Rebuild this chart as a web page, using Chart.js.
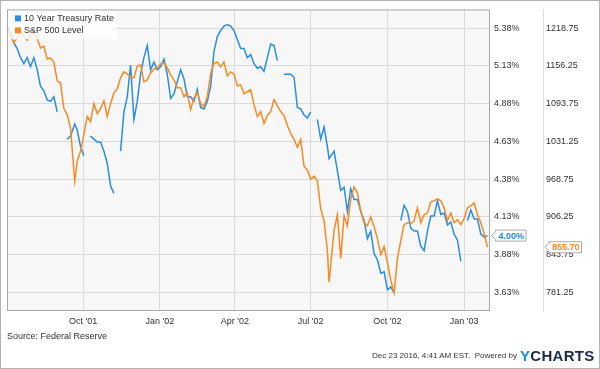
<!DOCTYPE html>
<html>
<head>
<meta charset="utf-8">
<script src="https://cdn.jsdelivr.net/npm/chart.js@4.4.0/dist/chart.umd.min.js"></script>
<style>
    html, body { margin: 0; padding: 0; background: #fff; }
    #wrap { position: relative; width: 600px; height: 369px; overflow: hidden; font-family: 'Liberation Sans', Arial, sans-serif; }
    #chart { position: absolute; left: 0; top: 0; }
    #frame { position: absolute; left: 0; top: 0; width: 600px; height: 369px; box-sizing: border-box; border: 1px solid #b4b4b4; pointer-events: none; }
    #source { position: absolute; left: 7px; top: 331px; font-size: 9px; color: #333; }
    #stamp { position: absolute; right: 83px; top: 351px; font-size: 8px; color: #333; }
    #logo { position: absolute; left: 520px; top: 347px; font-size: 15px; font-weight: bold; color: #1b2a47; letter-spacing: 0.3px; }
    #logo span { color: #1e8ddf; }
</style>
</head>
<body>
<div id="wrap">
    <canvas id="chart" width="600" height="369"></canvas>
    <div id="source">Source: Federal Reserve</div>
    <div id="stamp">Dec 23 2016, 4:41 AM EST.&nbsp; Powered by</div>
    <div id="logo"><span>Y</span>CHARTS</div>
    <div id="frame"></div>
</div>
<script>
const dates = [
    '2001-07-02', '2001-07-06', '2001-07-10', '2001-07-14', '2001-07-18', '2001-07-22', '2001-07-26', '2001-07-30',
    '2001-08-03', '2001-08-07', '2001-08-11', '2001-08-15', '2001-08-19', '2001-08-23', '2001-08-27', '2001-08-31',
    '2001-09-04', '2001-09-08', '2001-09-12', '2001-09-16', '2001-09-21', '2001-09-24', '2001-09-28',
    '2001-10-02', '2001-10-06', '2001-10-10', '2001-10-14', '2001-10-18', '2001-10-22', '2001-10-26', '2001-10-30',
    '2001-11-03', '2001-11-07', '2001-11-11', '2001-11-15', '2001-11-19', '2001-11-23', '2001-11-27',
    '2001-12-01', '2001-12-05', '2001-12-09', '2001-12-13', '2001-12-17', '2001-12-21', '2001-12-25', '2001-12-29',
    '2002-01-02', '2002-01-06', '2002-01-10', '2002-01-14', '2002-01-18', '2002-01-22', '2002-01-26', '2002-01-30',
    '2002-02-03', '2002-02-07', '2002-02-11', '2002-02-15', '2002-02-19', '2002-02-23', '2002-02-27',
    '2002-03-03', '2002-03-07', '2002-03-11', '2002-03-15', '2002-03-19', '2002-03-23', '2002-03-27', '2002-03-31',
    '2002-04-04', '2002-04-08', '2002-04-12', '2002-04-16', '2002-04-20', '2002-04-24', '2002-04-28',
    '2002-05-02', '2002-05-06', '2002-05-10', '2002-05-14', '2002-05-18', '2002-05-22', '2002-05-26', '2002-05-30',
    '2002-06-03', '2002-06-07', '2002-06-11', '2002-06-15', '2002-06-19', '2002-06-23', '2002-06-27',
    '2002-07-01', '2002-07-05', '2002-07-09', '2002-07-13', '2002-07-17', '2002-07-21', '2002-07-23', '2002-07-29',
    '2002-08-02', '2002-08-06', '2002-08-10', '2002-08-14', '2002-08-18', '2002-08-22', '2002-08-26', '2002-08-30',
    '2002-09-03', '2002-09-07', '2002-09-11', '2002-09-15', '2002-09-19', '2002-09-23', '2002-09-27',
    '2002-10-01', '2002-10-05', '2002-10-09', '2002-10-13', '2002-10-17', '2002-10-21', '2002-10-25', '2002-10-29',
    '2002-11-02', '2002-11-06', '2002-11-10', '2002-11-14', '2002-11-18', '2002-11-22', '2002-11-26', '2002-11-30',
    '2002-12-04', '2002-12-08', '2002-12-12', '2002-12-16', '2002-12-20', '2002-12-24', '2002-12-28',
    '2003-01-01', '2003-01-05', '2003-01-09', '2003-01-13', '2003-01-17', '2003-01-21', '2003-01-25', '2003-01-29',
];

// 10 year treasury rate, % (null = no quote, line breaks there)
const treasuryRate = [
    5.39, 5.34, 5.28, 5.24, 5.18, 5.14, 5.18, 5.12,
    5.18, 5.10, 4.99, 4.96, 4.90, 4.89, 4.92, 4.82,
    null, null, 4.64, 4.66, 4.74, 4.70, 4.59,
    4.53, null, 4.66, 4.64, 4.62, 4.62, 4.56, 4.48,
    4.33, 4.28, null, 4.56, 4.82, 4.92, 5.13,
    4.77, 4.89, 5.07, 5.18, 5.26, 5.10, 5.15, 5.10,
    5.12, 5.17, 5.07, 4.91, 4.94, 5.02, 5.10, 5.04,
    4.92, 4.92, 4.89, 4.97, 4.85, 4.84, 4.89,
    4.99, 5.22, 5.32, 5.36, 5.39, 5.40, 5.39, 5.36,
    5.30, 5.24, 5.24, 5.18, 5.20, 5.14, 5.11,
    5.12, 5.09, 5.18, 5.27, 5.26, 5.16, null, 5.07,
    5.07, 5.07, 5.05, 4.85, 4.84, 4.80, 4.78,
    4.82, null, 4.77, 4.64, 4.72, 4.59, 4.51, 4.56,
    4.43, 4.30, 4.32, 4.16, 4.31, 4.24, 4.24, 4.16,
    4.10, 3.98, 4.03, 3.88, 3.84, 3.75, 3.76,
    3.64, 3.66, 3.62, null, 4.10, 4.20, 4.16, 4.05,
    4.03, 4.03, 3.93, 3.90, 4.03, 4.13, 4.13, 4.23,
    4.14, 4.15, 4.07, 4.09, 4.01, 3.97, 3.83,
    null, 4.10, 4.17, 4.11, 4.11, 4.01, 3.99, 4.00,
];

// S&P 500 index level
const sp500Level = [
    1220.4, 1203.9, 1195.7, 1202.3, 1213.8, 1205.6, 1199.0, 1207.2,
    1210.5, 1202.3, 1185.8, 1189.1, 1167.8, 1169.4, 1162.8, 1131.6,
    1128.3, 1085.5, 1075.6, 1052.6, 965.5, 998.3, 1014.8,
    1042.8, 1072.4, 1064.1, 1093.7, 1077.3, 1085.5, 1098.7, 1072.4,
    1093.7, 1111.8, 1118.4, 1136.5, 1146.4, 1143.1, 1138.2,
    1136.5, 1156.2, 1157.9, 1129.9, 1133.2, 1144.7, 1151.3, 1152.9,
    1159.5, 1161.2, 1152.9, 1141.4, 1133.2, 1120.1, 1120.1, 1105.3,
    1111.8, 1083.9, 1103.6, 1111.8, 1093.7, 1088.8, 1105.3,
    1143.1, 1161.2, 1162.8, 1154.6, 1162.8, 1139.8, 1146.4, 1143.1,
    1123.3, 1125.0, 1110.2, 1113.5, 1116.8, 1092.1, 1072.4,
    1080.6, 1060.8, 1074.0, 1080.6, 1100.3, 1090.5, 1080.6, 1074.0,
    1057.6, 1044.4, 1034.5, 1021.4, 1034.5, 990.1, 983.6,
    968.7, 973.7, 965.5, 919.4, 899.7, 850.3, 797.7, 883.2,
    909.5, 837.2, 907.9, 891.4, 935.8, 955.6, 945.7, 916.1,
    896.4, 891.4, 906.3, 889.8, 870.1, 843.7, 856.9,
    830.6, 801.0, 779.6, 837.2, 866.8, 893.1, 896.4, 894.7,
    899.7, 921.0, 896.4, 909.5, 912.8, 930.9, 932.6, 935.8,
    932.6, 921.0, 899.7, 912.8, 896.4, 901.3, 893.1,
    903.0, 921.0, 924.3, 929.3, 909.5, 896.4, 878.3, 855.7,
];

const quarterDates = ['2001-10-01', '2002-01-01', '2002-04-01', '2002-07-01', '2002-10-01', '2003-01-01'];
const quarterLabels = ["Oct '01", "Jan '02", "Apr '02", "Jul '02", "Oct '02", "Jan '03"];
const rateTicks = [3.625, 3.875, 4.125, 4.375, 4.625, 4.875, 5.125, 5.375];
const levelTicks = [781.25, 843.75, 906.25, 968.75, 1031.25, 1093.75, 1156.25, 1218.75];

const seriesNames = ['10 Year Treasury Rate', 'S&P 500 Level'];
const BLUE = '#2a8de4';
const ORANGE = '#f98a22';
const FONT = "'Liberation Sans', Arial, sans-serif";

const dayZero = Date.parse('2001-07-01');
function dayOf(stamp) {
    return (Date.parse(stamp) - dayZero) / 864e5;
}

const ratePoints = dates.map((d, i) => ({ x: dayOf(d), y: treasuryRate[i] }));
const levelPoints = dates.map((d, i) => ({ x: dayOf(d), y: sp500Level[i] }));

function drawTag(ctx, tipX, y, text, color) {
    ctx.font = `bold 9px ${FONT}`;
    const w = ctx.measureText(text).width + 5;
    const h = 11;
    const bx = tipX + 4;
    ctx.beginPath();
    ctx.moveTo(tipX, y);
    ctx.lineTo(bx, y - 4);
    ctx.lineTo(bx, y - h / 2);
    ctx.lineTo(bx + w, y - h / 2);
    ctx.lineTo(bx + w, y + h / 2);
    ctx.lineTo(bx, y + h / 2);
    ctx.lineTo(bx, y + 4);
    ctx.closePath();
    ctx.fillStyle = '#fff';
    ctx.fill();
    ctx.strokeStyle = '#aaa';
    ctx.lineWidth = 1;
    ctx.stroke();
    ctx.fillStyle = color;
    ctx.textAlign = 'left';
    ctx.textBaseline = 'middle';
    ctx.fillText(text, bx + 3, y + 0.5);
}

const plotDecor = {
    id: 'plotDecor',
    beforeDraw(chart) {
        const { ctx, chartArea: a } = chart;
        ctx.save();
        ctx.fillStyle = '#f7f7f7';
        ctx.fillRect(a.left, a.top, a.width, a.height);
        ctx.restore();
    },
    afterDatasetsDraw(chart) {
        const { ctx, chartArea: a } = chart;
        ctx.save();
        // legend box in the top left corner
        ctx.fillStyle = 'rgba(255,255,255,0.8)';
        ctx.fillRect(a.left + 1, a.top + 1, 109, 29);
        ctx.fillStyle = BLUE;
        ctx.fillRect(a.left + 8, a.top + 6, 6, 6);
        ctx.fillStyle = ORANGE;
        ctx.fillRect(a.left + 8, a.top + 18, 6, 6);
        ctx.fillStyle = '#333';
        ctx.font = `9px ${FONT}`;
        ctx.textBaseline = 'middle';
        ctx.fillText(seriesNames[0], a.left + 17, a.top + 9);
        ctx.fillText(seriesNames[1], a.left + 17, a.top + 21);
        // plot border
        ctx.strokeStyle = '#a9a9a9';
        ctx.lineWidth = 1;
        ctx.strokeRect(a.left + 0.5, a.top + 0.5, a.width - 1, a.height - 1);
        ctx.restore();
    },
    afterDraw(chart) {
        const { ctx, scales } = chart;
        const lastRate = treasuryRate[treasuryRate.length - 1];
        const lastLevel = sp500Level[sp500Level.length - 1];
        ctx.save();
        drawTag(ctx, chart.chartArea.right + 1.5, scales.y.getPixelForValue(lastRate), lastRate.toFixed(2) + '%', '#1f86e0');
        drawTag(ctx, scales.y2.left + 2, scales.y2.getPixelForValue(lastLevel), lastLevel.toFixed(2), ORANGE);
        ctx.restore();
    },
};

new Chart(document.getElementById('chart'), {
    type: 'line',
    data: {
        datasets: [
            {
                label: seriesNames[0],
                data: ratePoints,
                yAxisID: 'y',
                borderColor: BLUE,
                borderWidth: 1.5,
                pointRadius: 0,
                tension: 0,
                spanGaps: false,
                order: 1,
            },
            {
                label: seriesNames[1],
                data: levelPoints,
                yAxisID: 'y2',
                borderColor: ORANGE,
                borderWidth: 1.5,
                pointRadius: 0,
                tension: 0,
                order: 0,
            },
        ],
    },
    options: {
        responsive: false,
        animation: false,
        devicePixelRatio: 1,
        layout: { padding: { left: 7, top: 8, right: 0, bottom: 38 } },
        plugins: { legend: { display: false }, tooltip: { enabled: false } },
        scales: {
            x: {
                type: 'linear',
                min: 0.8,
                max: 580,
                afterBuildTicks: (scale) => {
                    scale.ticks = quarterDates.map((d) => ({ value: dayOf(d) }));
                },
                afterFit: (scale) => { scale.height = 20; },
                ticks: {
                    callback: (value, index) => quarterLabels[index],
                    font: { family: FONT, size: 9 },
                    color: '#333',
                    padding: 5,
                    maxRotation: 0,
                    autoSkip: false,
                },
                grid: { color: '#dadada', drawTicks: false },
                border: { display: false },
            },
            y: {
                position: 'right',
                min: 3.5,
                max: 5.5,
                weight: 0,
                afterBuildTicks: (scale) => {
                    scale.ticks = rateTicks.map((v) => ({ value: v }));
                },
                afterFit: (scale) => { scale.width = 53; },
                ticks: {
                    callback: (value) => value.toFixed(2) + '%',
                    font: { family: FONT, size: 9 },
                    color: '#333',
                    padding: 4,
                },
                grid: { color: '#dadada', drawTicks: false },
                border: { display: false },
            },
            y2: {
                position: 'right',
                min: 750,
                max: 1250,
                weight: 1,
                afterBuildTicks: (scale) => {
                    scale.ticks = levelTicks.map((v) => ({ value: v }));
                },
                afterFit: (scale) => { scale.width = 57; },
                ticks: {
                    callback: (value) => value.toFixed(2),
                    font: { family: FONT, size: 9 },
                    color: '#333',
                    padding: 3,
                },
                grid: { drawOnChartArea: false, drawTicks: false },
                border: { display: true, color: '#dcdcdc' },
            },
        },
    },
    plugins: [plotDecor],
});
</script>
</body>
</html>
